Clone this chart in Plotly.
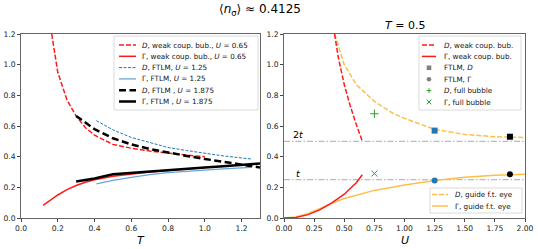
import plotly.graph_objects as go

# ---------------- data: left panel (vs T) ----------------
T_wk_D = [0.167, 0.2, 0.25, 0.3, 0.35, 0.4, 0.5, 0.6, 0.7, 0.8, 0.9, 1.0]
D_wk = [1.2, 0.95, 0.77, 0.665, 0.59, 0.54, 0.48, 0.455, 0.437, 0.422, 0.41, 0.40]
T_wk_G = [0.12, 0.15, 0.2, 0.25, 0.3, 0.35, 0.4, 0.5, 0.6, 0.7, 0.8, 0.9, 1.0]
G_wk = [0.083, 0.11, 0.15, 0.185, 0.212, 0.233, 0.25, 0.272, 0.288, 0.3, 0.31, 0.32, 0.33]

T_125 = [0.41, 0.5, 0.6, 0.7, 0.8, 0.9, 1.0, 1.1, 1.25]
D_125 = [0.635, 0.575, 0.525, 0.49, 0.46, 0.44, 0.422, 0.405, 0.385]
G_125 = [0.222, 0.245, 0.265, 0.283, 0.296, 0.305, 0.313, 0.32, 0.33]

T_1875 = [0.3, 0.4, 0.5, 0.6, 0.7, 0.8, 0.9, 1.0, 1.1, 1.2, 1.3]
D_1875 = [0.665, 0.58, 0.52, 0.48, 0.45, 0.425, 0.405, 0.385, 0.365, 0.345, 0.33]
G_1875 = [0.238, 0.258, 0.285, 0.295, 0.303, 0.312, 0.32, 0.33, 0.338, 0.346, 0.355]

# ---------------- data: right panel (vs U) ----------------
U_wk_D = [0.42, 0.45, 0.5, 0.55, 0.6, 0.65]
Dw_U = [1.2, 1.05, 0.87, 0.73, 0.61, 0.50]
U_wk_G = [0.0, 0.1, 0.2, 0.3, 0.4, 0.5, 0.6, 0.65]
Gw_U = [0.0, 0.004, 0.022, 0.055, 0.1, 0.155, 0.23, 0.282]

U_ftlm = [1.25, 1.875]
D_ftlm = [0.57, 0.53]
G_ftlm = [0.245, 0.285]
ftlm_colors = ["#1f77b4", "#000000"]

U_full = [0.75]
D_full = [0.68]
G_full = [0.29]

U_guide_D = [0.42, 0.5, 0.6, 0.75, 0.9, 1.0, 1.25, 1.5, 1.75, 2.0]
D_guide = [1.2, 1.0, 0.87, 0.76, 0.685, 0.65, 0.578, 0.545, 0.53, 0.525]
U_guide_G = [0.0, 0.1, 0.2, 0.25, 0.3, 0.4, 0.5, 0.75, 1.0, 1.25, 1.5, 1.75, 2.0]
G_guide = [0.0, 0.006, 0.03, 0.045, 0.062, 0.097, 0.127, 0.18, 0.215, 0.245, 0.265, 0.278, 0.285]

levels = [0.5, 0.25]
level_labels = ["2<i>t</i>", "<i>t</i>"]

RED = "#ff1a1a"
BLUE = "#1f77b4"
LBLUE = "#6aa6da"
ORANGE = "#ffbf47"
GREEN = "#2ca02c"
GRAY = "#808080"

W, H = 538, 249
def px(x):
    return x / W
def py(y):
    return 1 - y / H

# styles (used both for data lines and legend samples)
st_red_d = dict(color=RED, dash="5px,2px", width=1.5)
st_red_s = dict(color=RED, width=1.5)
st_blue_d = dict(color=BLUE, dash="3px,1.5px", width=1)
st_blue_s = dict(color=LBLUE, width=1.3)
st_blk_d = dict(color="black", dash="7px,3.5px", width=2.5)
st_blk_s = dict(color="black", width=2.5)
st_or_d = dict(color=ORANGE, dash="5px,2px", width=1.5)
st_or_s = dict(color=ORANGE, width=1.5)

fig = go.Figure()

# left panel
fig.add_trace(go.Scatter(x=T_wk_D, y=D_wk, mode="lines", line=st_red_d))
fig.add_trace(go.Scatter(x=T_wk_G, y=G_wk, mode="lines", line=st_red_s))
fig.add_trace(go.Scatter(x=T_125, y=D_125, mode="lines", line=st_blue_d))
fig.add_trace(go.Scatter(x=T_125, y=G_125, mode="lines", line=st_blue_s))
fig.add_trace(go.Scatter(x=T_1875, y=D_1875, mode="lines", line=st_blk_d))
fig.add_trace(go.Scatter(x=T_1875, y=G_1875, mode="lines", line=st_blk_s))

# right panel
for lv in levels:
    fig.add_trace(go.Scatter(x=[0, 2], y=[lv, lv], mode="lines", xaxis="x2", yaxis="y2",
                             line=dict(color="#bbbbbb", dash="6px,2px,1.5px,2px", width=1.2)))
fig.add_trace(go.Scatter(x=U_guide_D, y=D_guide, mode="lines", xaxis="x2", yaxis="y2", line=st_or_d))
fig.add_trace(go.Scatter(x=U_guide_G, y=G_guide, mode="lines", xaxis="x2", yaxis="y2", line=st_or_s))
fig.add_trace(go.Scatter(x=U_wk_D, y=Dw_U, mode="lines", xaxis="x2", yaxis="y2", line=st_red_d))
fig.add_trace(go.Scatter(x=U_wk_G, y=Gw_U, mode="lines", xaxis="x2", yaxis="y2", line=st_red_s))
fig.add_trace(go.Scatter(x=U_ftlm, y=D_ftlm, mode="markers", xaxis="x2", yaxis="y2",
                         marker=dict(symbol="square", size=6, color=ftlm_colors),
                         error_y=dict(type="constant", value=0.008, color="black", thickness=1, width=2)))
fig.add_trace(go.Scatter(x=U_ftlm, y=G_ftlm, mode="markers", xaxis="x2", yaxis="y2",
                         marker=dict(symbol="circle", size=6, color=ftlm_colors),
                         error_y=dict(type="constant", value=0.006, color="black", thickness=1, width=2)))
fig.add_trace(go.Scatter(x=U_full, y=D_full, mode="markers", xaxis="x2", yaxis="y2",
                         marker=dict(symbol="cross-thin", size=6, line=dict(color=GREEN, width=1))))
fig.add_trace(go.Scatter(x=U_full, y=G_full, mode="markers", xaxis="x2", yaxis="y2",
                         marker=dict(symbol="x-thin", size=6, line=dict(color=GREEN, width=1))))

shapes = []
annotations = []

for lv, lab in zip(levels, level_labels):
    annotations.append(dict(x=0.12, y=lv, xref="x2", yref="y2", text=lab, showarrow=False,
                            yanchor="bottom", xanchor="center", yshift=-1,
                            font=dict(size=9.5, color="black")))

# ---------- custom legends (matplotlib-like compact layout) ----------
def legend_box(x0, y0, x1, y1):
    shapes.append(dict(type="rect", xref="paper", yref="paper", x0=px(x0), x1=px(x1),
                       y0=py(y1), y1=py(y0), line=dict(color="#d0d0d0", width=0.8),
                       fillcolor="rgba(255,255,255,0.8)", layer="above"))

def legend_text(x, y, text):
    annotations.append(dict(x=px(x), y=py(y), xref="paper", yref="paper", text=text,
                            showarrow=False, xanchor="left", yanchor="middle",
                            font=dict(size=7.2, color="#111")))

def legend_line(x0, x1, y, style):
    shapes.append(dict(type="line", xref="paper", yref="paper", x0=px(x0), x1=px(x1),
                       y0=py(y), y1=py(y), line=style, layer="above"))

def legend_marker(cx, cy, kind, color):
    r = 2.3
    if kind == "square":
        shapes.append(dict(type="rect", xref="paper", yref="paper", x0=px(cx - r), x1=px(cx + r),
                           y0=py(cy + r), y1=py(cy - r), fillcolor=color, line=dict(width=0),
                           layer="above"))
    elif kind == "circle":
        shapes.append(dict(type="circle", xref="paper", yref="paper", x0=px(cx - r), x1=px(cx + r),
                           y0=py(cy + r), y1=py(cy - r), fillcolor=color, line=dict(width=0),
                           layer="above"))
    elif kind == "plus":
        for (a, b, c, d) in [(-r, 0, r, 0), (0, -r, 0, r)]:
            shapes.append(dict(type="line", xref="paper", yref="paper", x0=px(cx + a), x1=px(cx + c),
                               y0=py(cy + b), y1=py(cy + d), line=dict(color=color, width=1),
                               layer="above"))
    elif kind == "x":
        for (a, b, c, d) in [(-r, -r, r, r), (-r, r, r, -r)]:
            shapes.append(dict(type="line", xref="paper", yref="paper", x0=px(cx + a), x1=px(cx + c),
                               y0=py(cy + b), y1=py(cy + d), line=dict(color=color, width=1),
                               layer="above"))

# left legend
legend_box(114, 36, 258, 110)
left_items = [
    (st_red_d, "<i>D</i>, weak coup. bub., <i>U</i> = 0.65"),
    (st_red_s, "Γ, weak coup. bub., <i>U</i> = 0.65"),
    (st_blue_d, "<i>D</i>, FTLM, <i>U</i> = 1.25"),
    (st_blue_s, "Γ, FTLM, <i>U</i> = 1.25"),
    (st_blk_d, "<i>D</i>, FTLM , <i>U</i> = 1.875"),
    (st_blk_s, "Γ, FTLM , <i>U</i> = 1.875"),
]
for i, (st, txt) in enumerate(left_items):
    yy = 45 + i * 11.3
    legend_line(119, 136, yy, st)
    legend_text(140, yy, txt)

# right upper legend
legend_box(419, 36, 521, 110)
r_items = [
    ("line", st_red_d, "<i>D</i>, weak coup. bub."),
    ("line", st_red_s, "Γ, weak coup. bub."),
    ("square", GRAY, "FTLM, <i>D</i>"),
    ("circle", GRAY, "FTLM, Γ"),
    ("plus", GREEN, "<i>D</i>, full bubble"),
    ("x", GREEN, "Γ, full bubble"),
]
for i, (kind, st, txt) in enumerate(r_items):
    yy = 45 + i * 11.4
    if kind == "line":
        legend_line(422, 436, yy, st)
    else:
        legend_marker(429, yy, kind, st)
    legend_text(442, yy, txt)

# right lower legend
legend_box(430, 188, 522, 213)
legend_line(432, 448, 194.5, st_or_d)
legend_text(453, 194.5, "<i>D</i>, guide f.t. eye")
legend_line(432, 448, 206, st_or_s)
legend_text(453, 206, "Γ, guide f.t. eye")

# titles
annotations += [
    dict(text="⟨<i>n</i><sub>σ</sub>⟩ ≈ 0.4125", x=px(260), y=py(10), xref="paper", yref="paper",
         xanchor="center", yanchor="middle", showarrow=False, font=dict(size=12)),
    dict(text="<i>T</i> = 0.5", x=px((284 + 525) / 2), y=py(26), xref="paper", yref="paper",
         xanchor="center", yanchor="middle", showarrow=False, font=dict(size=11)),
    dict(text="<i>T</i>", x=px((21 + 260) / 2), y=py(240), xref="paper", yref="paper",
         xanchor="center", yanchor="middle", showarrow=False, font=dict(size=11)),
    dict(text="<i>U</i>", x=px((284 + 525) / 2), y=py(240), xref="paper", yref="paper",
         xanchor="center", yanchor="middle", showarrow=False, font=dict(size=11)),
]

axis_common = dict(showline=True, mirror=True, linecolor="#666666", linewidth=0.8, ticks="outside",
                   ticklen=3, tickcolor="#444444", tickfont=dict(size=7.6, color="#222"),
                   showgrid=False, zeroline=False, automargin=False)

fig.update_layout(
    width=W, height=H, margin=dict(l=0, r=0, t=0, b=0), showlegend=False,
    paper_bgcolor="white", plot_bgcolor="white",
    font=dict(family="DejaVu Sans", color="black"),
    xaxis=dict(domain=[px(21), px(260)], range=[0, 1.3], dtick=0.2, tickformat=".1f", **axis_common),
    yaxis=dict(domain=[py(218), py(34)], range=[0, 1.2], dtick=0.2, tickformat=".1f", **axis_common),
    xaxis2=dict(domain=[px(284), px(525)], range=[0, 2], dtick=0.25, tickformat=".2f",
                anchor="y2", **axis_common),
    yaxis2=dict(domain=[py(218), py(34)], range=[0, 1.2], dtick=0.2, tickformat=".1f",
                anchor="x2", **axis_common),
    shapes=shapes,
    annotations=annotations,
)

fig.write_html("out.html", config={"displayModeBar": False},
               post_script="document.body.style.margin='0';document.body.style.overflow='hidden';")
